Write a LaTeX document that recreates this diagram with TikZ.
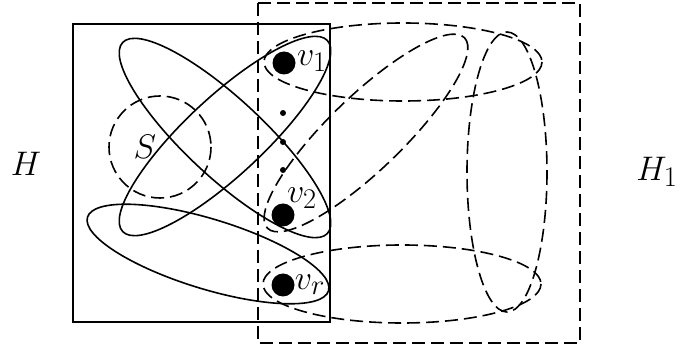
\documentclass[tikz,border=0pt]{standalone}
\begin{document}
\begin{tikzpicture}[x=1pt,y=-1pt,
  solidline/.style={line width=1.6pt},
  dashline/.style={line width=1.6pt,dash pattern=on 13pt off 6pt},
  bigdot/.style={circle,fill=black,inner sep=0pt,minimum size=23pt},
  smalldot/.style={circle,fill=black,inner sep=0pt,minimum size=6pt},
  lab/.style={inner sep=0pt,font=\Huge,scale=1.37}]
\useasboundingbox (0,0) rectangle (681,347);
% frames
\draw[solidline] (73,24) rectangle (330,322);
\draw[dashline] (258,3) rectangle (580,343);
% S
\draw[dashline] (160,147) circle (51);
\node[lab] (S) at (145,147) {$S$};
% solid hyperedges
\draw[solidline,rotate around={-43:(225,138)}] (225,138) ellipse (140 and 39);
\draw[solidline,rotate around={43:(225,136)}] (225,136) ellipse (140 and 39);
\draw[solidline,rotate around={-17:(208,254)}] (208,254) ellipse (126 and 35);
% dashed hyperedges
\draw[dashline] (403,62) ellipse (139 and 39);
\draw[dashline] (402,284) ellipse (139 and 39);
\draw[dashline] (507,172) ellipse (40 and 140);
\draw[dashline,rotate around={44:(366,133)}] (366,133) ellipse (137 and 37);
% vertices
\node[bigdot] (v1) at (284,63) {};
\node[bigdot] (v2) at (283,215) {};
\node[bigdot] (vr) at (283,285) {};
\node[smalldot] (d1) at (283,113) {};
\node[smalldot] (d2) at (283,142) {};
\node[smalldot] (d3) at (283,170) {};
\node[lab] (l1) at (312,61) {$v_1$};
\node[lab] (l2) at (302,198) {$v_2$};
\node[lab] (lr) at (310,285) {$v_r$};
% labels
\node[lab] (H) at (26,164) {$H$};
\node[lab] (H1) at (657,172) {$H_1$};
\end{tikzpicture}
\end{document}
